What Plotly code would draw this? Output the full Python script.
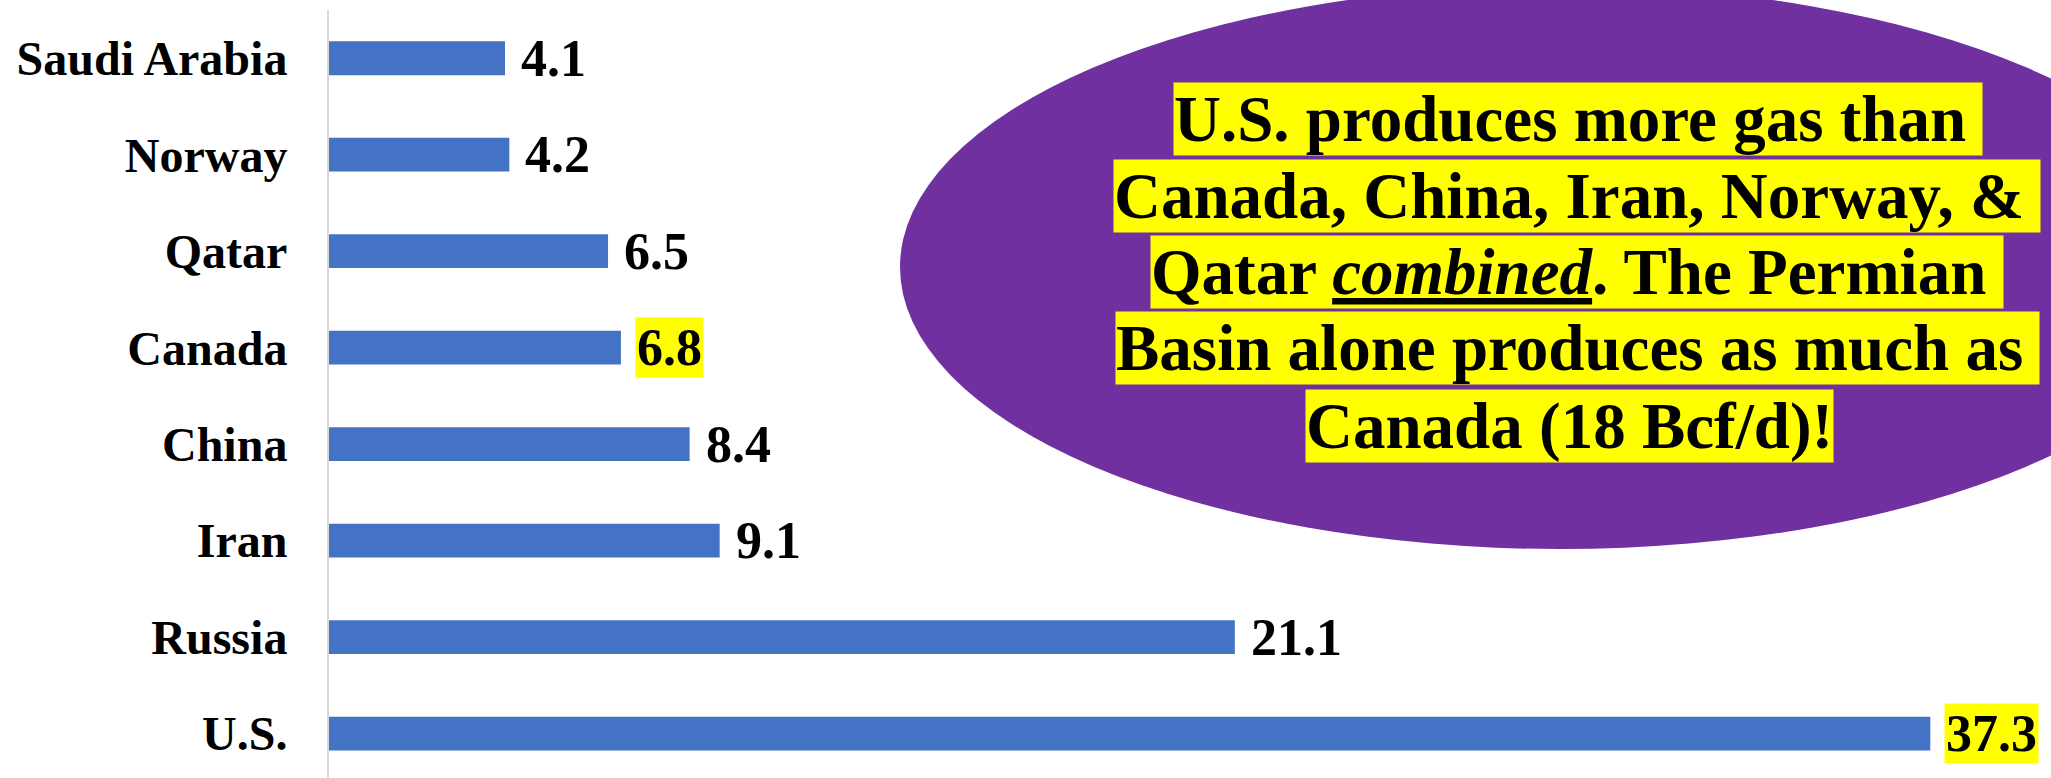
import plotly.graph_objects as go

# ---- data ----
countries = ["Saudi Arabia", "Norway", "Qatar", "Canada", "China", "Iran", "Russia", "U.S."]
production_bcfd = [4.1, 4.2, 6.5, 6.8, 8.4, 9.1, 21.1, 37.3]
highlighted = ["Canada", "U.S."]
callout_lines = [
    "U.S. produces more gas than\u00a0",
    "Canada, China, Iran, Norway, &\u00a0",
    "Qatar <i><u>combined</u></i>. The Permian\u00a0",
    "Basin alone produces as much as\u00a0",
    "Canada (18 Bcf/d)!",
]

# ---- layout geometry (pixels) ----
W_FIG, H_FIG = 2051, 778
L, R, T, B = 329, 0, 10, 0
PW, PH = W_FIG - L - R, H_FIG - T - B
PX_PER_UNIT = 42.93
FONT = "Liberation Serif, Times New Roman, serif"


def px_x(px):
    return (px - L) / PW


def px_y(py):
    return 1 - (py - T) / PH


fig = go.Figure()
fig.add_trace(go.Bar(
    x=production_bcfd,
    y=countries,
    orientation="h",
    marker=dict(color="#4472C4", line=dict(width=0)),
    hoverinfo="x+y",
))

annotations = []
for c, v in zip(countries, production_bcfd):
    annotations.append(dict(
        x=v, y=c, xref="x", yref="y",
        text=f"{v}", showarrow=False,
        xanchor="left", yanchor="middle", xshift=14,
        bgcolor="#FFFF00" if c in highlighted else "rgba(0,0,0,0)",
        borderpad=1,
        font=dict(family=FONT, size=52, color="black", weight="bold"),
    ))

line_centers_y = [119, 196, 272, 348.5, 426]
line_centers_x = [1578, 1577, 1577, 1577, 1569]
for txt, cx, cy in zip(callout_lines, line_centers_x, line_centers_y):
    annotations.append(dict(
        x=px_x(cx), y=px_y(cy), xref="paper", yref="paper",
        text=txt, showarrow=False,
        xanchor="center", yanchor="middle",
        bgcolor="#FFFF00", borderpad=0,
        font=dict(family=FONT, size=65, color="black", weight="bold"),
    ))

fig.update_layout(
    width=W_FIG, height=H_FIG,
    margin=dict(l=L, r=R, t=T, b=B, autoexpand=False),
    paper_bgcolor="white", plot_bgcolor="white",
    bargap=0.65,
    showlegend=False,
    font=dict(family=FONT, color="black"),
    shapes=[dict(
        type="circle", xref="paper", yref="paper",
        x0=px_x(900), x1=px_x(2220), y0=px_y(-15), y1=px_y(549),
        fillcolor="#7030A0", line=dict(width=0), layer="below",
    )],
    annotations=annotations,
    xaxis=dict(
        range=[0, PW / PX_PER_UNIT],
        showgrid=False, zeroline=False, showticklabels=False,
        showline=False, fixedrange=True, automargin=False,
    ),
    yaxis=dict(
        autorange=False, range=[7.46, -0.5],
        showgrid=False, zeroline=False,
        showline=True, linecolor="#D9D9D9", linewidth=2,
        ticks="", ticklabelstandoff=30, automargin=False,
        tickfont=dict(family=FONT, size=48, color="black", weight="bold"),
        fixedrange=True,
    ),
)

fig.write_html(
    "out.html",
    config={"displayModeBar": False},
    post_script="document.body.style.margin='0';document.body.style.overflow='hidden';",
)
